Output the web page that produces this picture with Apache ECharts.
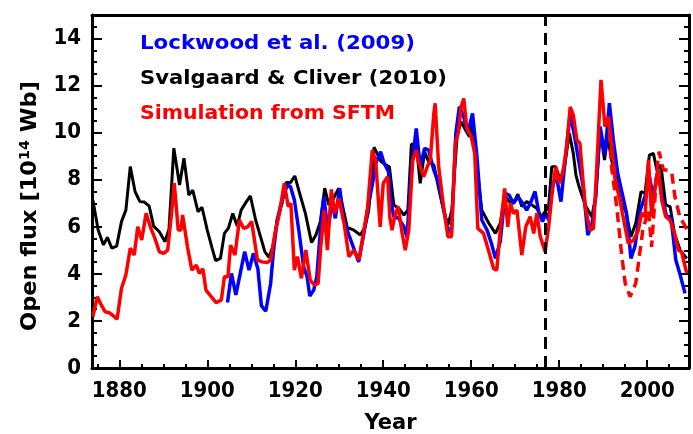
<!DOCTYPE html>
<html>
<head>
<meta charset="utf-8">
<script src="https://cdn.jsdelivr.net/npm/echarts@6/dist/echarts.min.js"></script>
<style>
html,body{margin:0;padding:0;background:#fff;}
#chart{width:693px;height:434px;}
</style>
</head>
<body>
<div id="chart"></div>
<script>
// ---- Data ----
const lockwoodYears = [1904.6,1905.5,1906.5,1907.5,1908.5,1909.5,1910.5,1911.5,1912.3,1913.3,1914.4,1915.0,1915.9,1917.0,1918.2,1918.9,1919.8,1920.8,1921.9,1922.7,1923.3,1924.2,1924.9,1925.9,1926.5,1927.4,1928.4,1929.1,1930.1,1931.0,1932.2,1933.3,1934.4,1935.6,1936.4,1937.5,1938.3,1939.4,1940.2,1941.2,1941.7,1942.4,1943.5,1944.7,1945.4,1946.4,1947.5,1948.4,1949.4,1950.3,1951.5,1952.6,1953.5,1954.5,1955.5,1956.5,1957.3,1958.3,1959.2,1960.3,1961.3,1962.4,1963.6,1964.6,1965.5,1966.6,1967.7,1968.6,1969.6,1970.6,1971.7,1972.6,1973.6,1974.5,1975.4,1976.2,1977.0,1977.6,1978.5,1979.5,1980.4,1981.5,1982.5,1983.5,1984.4,1985.5,1986.5,1987.4,1988.3,1989.3,1990.4,1991.4,1992.3,1993.3,1994.4,1995.3,1996.3,1997.2,1998.4,1999.5,2000.5,2001.4,2002.4,2003.4,2004.4,2005.4,2006.5,2007.4,2008.6];
const lockwoodValues = [2.78,4.02,3.11,4.02,4.94,4.16,4.87,4.22,2.65,2.41,3.58,4.87,6.29,7.14,7.78,7.71,7.14,5.86,4.3,3.88,3.06,3.31,3.88,6.29,7.28,5.86,7.07,6.36,7.64,6.29,5.65,5.08,4.51,5.72,6.71,7.78,8.7,9.19,8.7,8.34,7.14,6.43,6.36,6.0,5.58,8.41,10.18,8.56,9.33,9.26,8.41,7.85,6.99,6.0,5.72,9.97,11.1,10.68,9.97,10.82,8.98,6.29,5.86,5.29,4.66,5.37,7.42,7.35,7.0,7.28,7.0,6.71,7.07,7.5,6.57,6.22,6.57,6.29,7.85,8.0,7.07,9.12,10.82,9.83,8.84,7.63,5.65,6.07,7.28,10.26,9.05,11.25,9.69,8.27,7.35,6.57,4.66,5.15,6.71,7.28,8.13,7.2,8.41,7.28,6.43,6.43,4.59,4.02,3.17];

const svalgaardYears = [1874.0,1875.2,1876.4,1877.3,1878.3,1879.4,1880.5,1881.5,1882.5,1883.6,1884.7,1885.7,1886.8,1887.8,1889.1,1890.4,1891.3,1892.4,1893.7,1894.7,1895.8,1896.7,1897.9,1898.8,1900.0,1901.1,1901.9,1903.0,1903.9,1904.8,1905.8,1906.8,1907.7,1908.9,1909.8,1911.0,1912.1,1913.1,1914.0,1914.9,1915.9,1917.0,1917.9,1918.9,1919.9,1920.9,1922.3,1923.7,1924.7,1925.7,1926.7,1927.6,1928.5,1929.9,1931.8,1933.3,1934.8,1935.9,1936.7,1937.9,1939.5,1940.6,1941.4,1942.4,1943.5,1944.7,1945.6,1946.4,1947.5,1948.4,1949.4,1950.3,1951.5,1952.6,1953.7,1954.7,1955.6,1956.8,1957.7,1958.7,1959.6,1960.3,1961.3,1962.4,1964.0,1965.5,1966.6,1967.6,1968.6,1969.6,1970.6,1971.5,1972.6,1973.8,1974.9,1975.9,1976.8,1977.6,1978.3,1979.2,1980.2,1981.2,1982.3,1983.2,1983.8,1984.4,1985.9,1987.4,1988.3,1989.3,1990.3,1991.0,1991.9,1993.1,1994.2,1995.1,1996.3,1997.4,1998.6,1999.5,2000.5,2001.4,2002.2,2003.1,2004.2,2005.2,2006.2,2007.5,2009.0];
const svalgaardValues = [7.14,5.86,5.23,5.55,5.09,5.18,6.22,6.71,8.56,7.49,7.07,7.05,6.88,6.03,5.79,5.37,5.9,9.34,7.78,8.91,7.35,7.56,6.64,6.83,5.86,5.09,4.56,4.66,5.72,5.94,6.57,6.03,6.71,7.07,7.31,6.29,5.58,4.94,4.7,5.15,6.29,7.0,7.88,7.88,8.16,7.49,6.57,5.33,5.65,6.22,7.64,6.94,7.14,7.64,5.98,5.86,5.65,6.0,6.71,9.38,8.77,8.63,8.55,6.93,6.79,6.5,6.71,9.52,9.48,7.85,9.19,8.77,8.63,7.63,6.71,6.07,6.71,9.9,10.47,10.11,9.83,10.33,8.56,6.71,6.15,5.72,6.15,7.35,7.07,7.0,7.39,6.86,7.07,6.93,6.79,6.43,6.64,6.86,8.55,8.55,8.0,8.55,9.97,9.12,8.2,7.78,6.93,6.43,7.28,10.11,8.84,9.83,8.84,7.85,6.86,6.71,5.58,6.15,7.5,7.42,9.05,9.12,8.41,8.63,6.93,6.86,5.72,5.0,4.66];

const simYears = [1874.0,1875.0,1875.9,1876.8,1877.7,1878.7,1879.5,1880.5,1881.5,1882.5,1883.4,1884.2,1885.1,1886.1,1887.2,1888.1,1889.1,1890.1,1891.0,1891.8,1892.5,1893.4,1894.0,1894.4,1895.5,1896.5,1897.5,1898.2,1899.0,1899.7,1900.9,1902.0,1903.2,1903.9,1904.7,1905.3,1906.3,1907.3,1908.3,1909.2,1910.1,1911.4,1912.4,1913.6,1914.4,1915.4,1916.4,1917.5,1918.4,1919.0,1919.8,1920.5,1921.4,1922.4,1923.4,1924.3,1925.2,1925.8,1926.6,1927.3,1928.2,1929.0,1929.9,1931.1,1932.2,1933.3,1934.5,1935.6,1936.4,1937.5,1938.3,1939.3,1940.0,1941.0,1941.5,1942.0,1942.6,1943.4,1944.3,1945.0,1945.8,1946.7,1947.5,1948.1,1948.7,1949.2,1950.0,1950.7,1951.5,1951.8,1952.6,1953.7,1954.7,1955.5,1956.4,1957.1,1957.7,1958.3,1959.0,1960.0,1960.8,1961.5,1962.8,1963.9,1965.1,1965.8,1966.6,1967.6,1968.3,1968.9,1969.6,1970.4,1971.5,1972.4,1973.4,1974.2,1974.9,1975.7,1976.8,1977.6,1978.3,1979.2,1980.0,1980.8,1981.7,1982.5,1983.2,1984.0,1984.7,1985.9,1987.0,1987.8,1988.5,1989.5,1990.4,1991.2,1992.7,1993.8,1994.8,1995.7,1996.9,1998.0,1998.7,1999.5,2000.3,2001.0,2001.9,2002.5,2003.3,2004.2,2005.2,2006.2,2007.1,2007.8,2009.0];
const simValues = [2.18,3.03,2.68,2.39,2.35,2.21,2.07,3.39,3.95,5.09,4.8,6.0,5.44,6.57,5.93,5.51,4.94,4.87,5.01,6.43,7.85,5.86,5.86,6.5,5.15,4.16,4.37,4.02,4.22,3.31,3.03,2.78,2.89,3.88,3.88,5.22,4.8,6.29,5.93,6.0,6.22,4.59,4.51,4.48,4.59,5.72,6.57,7.85,6.86,7.0,4.16,4.73,3.81,5.01,3.74,3.53,3.6,5.15,6.71,5.01,7.59,6.57,7.21,6.15,4.73,5.01,4.59,5.86,6.71,9.26,8.77,6.0,7.85,8.13,6.4,5.86,6.43,6.86,5.72,5.01,5.86,8.84,9.26,8.7,8.41,8.13,8.55,8.84,10.82,11.25,8.55,6.86,5.58,5.58,9.55,10.04,11.1,11.45,10.18,9.83,9.12,5.93,5.72,5.01,4.22,4.16,5.86,7.63,6.0,7.0,6.57,6.71,4.8,6.0,6.43,5.72,6.57,5.58,4.94,6.0,7.28,8.55,7.85,8.27,9.4,11.1,10.75,9.69,9.55,6.86,5.86,5.93,8.41,12.24,10.26,10.68,8.0,7.14,6.15,5.29,5.44,5.86,6.57,6.43,8.84,6.43,7.85,8.41,7.14,6.43,6.29,5.72,5.01,4.94,4.02];

const simAltYears = [1991.2,1991.9,1993.1,1994.2,1995.0,1996.1,1997.4,1998.2,1999.0,2000.3,2001.0,2002.2,2002.7,2003.7,2004.8,2005.6,2006.3,2007.4,2009.0];
const simAltValues = [10.68,8.55,6.8,4.8,3.6,3.03,3.6,4.73,5.86,6.71,5.15,8.41,9.19,8.41,8.41,8.27,7.28,6.43,5.9];

const markerYear = 1976.8;
const xLabelTicks = [1880,1900,1920,1940,1960,1980,2000];
const xMinorTicks = [1875,1880,1885,1890,1895,1900,1905,1910,1915,1920,1925,1930,1935,1940,1945,1950,1955,1960,1965,1970,1975,1980,1985,1990,1995,2000,2005];
const yLabelTicks = [0,2,4,6,8,10,12,14];
const yMinorTicks = [0,0.5,1,1.5,2,2.5,3,3.5,4,4.5,5,5.5,6,6.5,7,7.5,8,8.5,9,9.5,10,10.5,11,11.5,12,12.5,13,13.5,14,14.5];
const legendTexts = ['Lockwood et al. (2009)','Svalgaard & Cliver (2010)','Simulation from SFTM'];
const legendColors = ['#0000ff','#000000','#ff0000'];

// ---- helpers ----
const zip = (xs, ys) => xs.map((x, i) => [x, ys[i]]);
const ctx = document.createElement('canvas').getContext('2d');
function measure(text, font) { ctx.font = font; return ctx.measureText(text).width; }

const X_MIN = 1873.8, X_MAX = 2009.5, Y_MIN = 0, Y_MAX = 15;
const FONT = '"DejaVu Sans", sans-serif';
const TICK_FONT = '"DejaVu Sans Condensed", "DejaVu Sans", sans-serif';

function xAx(opts) {
  return Object.assign({
    type: 'value', min: X_MIN, max: X_MAX, splitLine: {show: false},
    axisLine: {show: false}, axisLabel: {show: false}, axisTick: {show: false}
  }, opts);
}
function yAx(opts) {
  return Object.assign({
    type: 'value', min: Y_MIN, max: Y_MAX, splitLine: {show: false},
    axisLine: {show: false}, axisLabel: {show: false}, axisTick: {show: false}
  }, opts);
}
const frameLine = {show: true, onZero: false, lineStyle: {color: '#000', width: 3}};

// legend graphic texts, stretched to match reference widths
const legendTargetW = [275, 307, 255];
const legendY = [44, 79, 114];
const legendFontSize = 19;
const legendFont = 'bold ' + legendFontSize + 'px ' + FONT;
const legendGraphics = legendTexts.map((t, i) => {
  const w = measure(t, legendFont);
  return {
    type: 'text', x: 140, y: legendY[i], scaleX: legendTargetW[i] / w,
    style: {text: t, fill: legendColors[i], font: legendFont, textVerticalAlign: 'middle'}
  };
});

// y axis title (rotated)
const yTitleSize = 22;
const yTitleFont = 'bold ' + yTitleSize + 'px ' + FONT;
const yTitleW = measure('Open flux [10', yTitleFont) + measure('14', 'bold 14px ' + FONT) + measure(' Wb]', yTitleFont);
const yTitle = {
  type: 'text', x: 30, y: 206, rotation: Math.PI / 2, scaleX: 250 / yTitleW,
  style: {
    text: 'Open flux [10{s|14} Wb]', font: yTitleFont, fill: '#000',
    textAlign: 'center', textVerticalAlign: 'middle',
    rich: {s: {fontSize: 14, fontWeight: 'bold', fontFamily: FONT, verticalAlign: 'top', padding: [0, 0, 10, 0]}}
  }
};

const chart = echarts.init(document.getElementById('chart'), null, {renderer: 'canvas'});
chart.setOption({
  animation: false,
  backgroundColor: '#fff',
  grid: {left: 92, right: 4, top: 15, bottom: 66, containLabel: false, outerBoundsMode: 'none'},
  xAxis: [
    xAx({position: 'bottom', axisLine: frameLine,
      axisTick: {show: true, inside: true, length: 8, customValues: xLabelTicks, lineStyle: {color: '#000', width: 2}},
      axisLabel: {show: true, customValues: xLabelTicks, formatter: v => String(v), color: '#000', fontSize: 22, fontWeight: 'bold', fontFamily: TICK_FONT, margin: 12},
      name: 'Year', nameLocation: 'middle', nameGap: 45, nameTextStyle: {color: '#000', fontSize: 21, fontWeight: 'bold', fontFamily: FONT}}),
    xAx({position: 'bottom', axisTick: {show: true, inside: true, length: 4, customValues: xMinorTicks, lineStyle: {color: '#000', width: 2}}}),
    xAx({position: 'top', axisLine: frameLine})
  ],
  yAxis: [
    yAx({position: 'left', axisLine: frameLine,
      axisTick: {show: true, inside: true, length: 10, customValues: yLabelTicks, lineStyle: {color: '#000', width: 2}},
      axisLabel: {show: true, customValues: yLabelTicks, formatter: v => String(v), color: '#000', fontSize: 22, fontWeight: 'bold', fontFamily: TICK_FONT, margin: 11}}),
    yAx({position: 'left', axisTick: {show: true, inside: true, length: 5, customValues: yMinorTicks, lineStyle: {color: '#000', width: 2}}}),
    yAx({position: 'right', axisLine: frameLine,
      axisTick: {show: true, inside: true, length: 10, customValues: yLabelTicks, lineStyle: {color: '#000', width: 2}}}),
    yAx({position: 'right', axisTick: {show: true, inside: true, length: 5, customValues: yMinorTicks, lineStyle: {color: '#000', width: 2}}})
  ],
  series: [
    {type: 'line', name: legendTexts[1], data: zip(svalgaardYears, svalgaardValues), showSymbol: false, symbol: 'none',
      lineStyle: {color: '#000', width: 3}, z: 2,
      markLine: {silent: true, symbol: 'none', label: {show: false},
        lineStyle: {color: '#000', width: 3, type: [12, 7]}, data: [{xAxis: markerYear}]}},
    {type: 'line', name: legendTexts[0], data: zip(lockwoodYears, lockwoodValues), showSymbol: false, symbol: 'none',
      lineStyle: {color: '#0000ff', width: 3.5}, z: 3},
    {type: 'line', name: legendTexts[2], data: zip(simYears, simValues), showSymbol: false, symbol: 'none',
      lineStyle: {color: '#ff0000', width: 3.5}, z: 4},
    {type: 'line', name: 'Simulation (alt)', data: zip(simAltYears, simAltValues), showSymbol: false, symbol: 'none',
      lineStyle: {color: '#ff0000', width: 3.5, type: [10, 6]}, z: 4}
  ],
  graphic: legendGraphics.concat([yTitle])
});
</script>
</body>
</html>
